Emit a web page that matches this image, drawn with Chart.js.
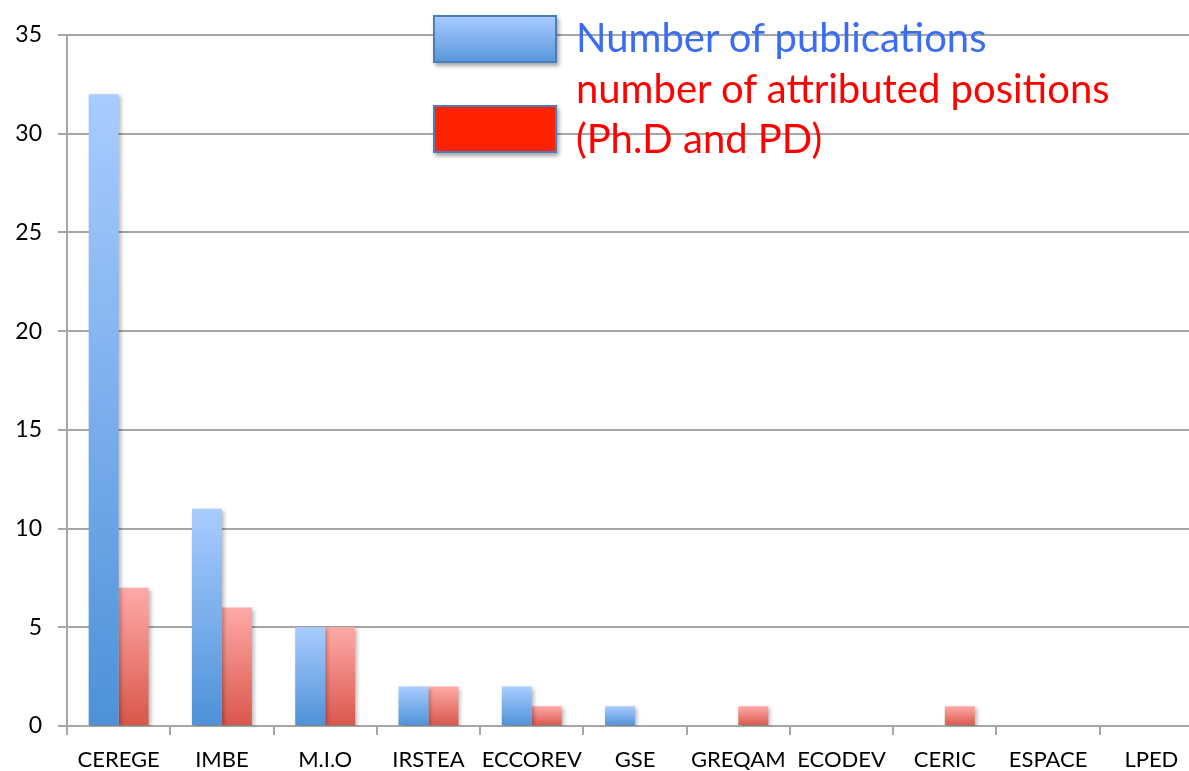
<!DOCTYPE html>
<html>
<head>
<meta charset="utf-8">
<script src="https://cdn.jsdelivr.net/npm/chart.js@4.4.1/dist/chart.umd.min.js"></script>
<style>
  html, body { margin: 0; padding: 0; background: #fff; overflow: hidden; width: 1189px; height: 771px; }
  #wrap { position: absolute; left: 0; top: 0; width: 1210px; height: 771px; }
  .lbox { position: absolute; left: 433px; width: 120px; height: 44px; border: 2px solid #4a7ebb; box-shadow: 2px 3px 4px rgba(0,0,0,0.35); }
  #box1 { top: 15px; background: linear-gradient(#a8cbff, #5a97dc); }
  #box2 { top: 105px; background: #ff2200; }
  .ltxt { position: absolute; left: 576px; font-family: Lato, "Open Sans", sans-serif; font-size: 40px; line-height: 50px; white-space: nowrap; }
  #t1 { top: 12px; color: #3a6cf4; }
  #t2 { top: 63px; color: #ff0000; }
</style>
</head>
<body>
<div id="wrap"><canvas id="c"></canvas></div>
<div class="lbox" id="box1"></div>
<div class="lbox" id="box2"></div>
<div class="ltxt" id="t1">Number of publications</div>
<div class="ltxt" id="t2">number of attributed positions<br>(Ph.D and PD)</div>
<script>
const categories = ["CEREGE", "IMBE", "M.I.O", "IRSTEA", "ECCOREV", "GSE", "GREQAM", "ECODEV", "CERIC", "ESPACE", "LPED"];
const publications = [32, 11, 5, 2, 2, 1, 0, 0, 0, 0, 0];
const positions = [7, 6, 5, 2, 1, 0, 1, 0, 1, 0, 0];
const seriesNames = ["Number of publications", "number of attributed positions (Ph.D and PD)"];

function grad(top, bottom, fallback) {
  return function (ctx) {
    if (ctx.type !== 'data') return fallback;
    const ch = ctx.chart, ys = ch.scales.y;
    if (!ys) return fallback;
    const t = ys.getPixelForValue(ctx.raw), b = ys.getPixelForValue(0);
    if (!isFinite(t) || !isFinite(b) || b - t < 1) return fallback;
    const g = ch.ctx.createLinearGradient(0, t, 0, b);
    g.addColorStop(0, top);
    g.addColorStop(1, bottom);
    return g;
  };
}

const shadowPlugin = {
  id: 'barShadow',
  beforeDatasetsDraw(chart) {
    const c = chart.ctx;
    c.save();
    c.shadowColor = 'rgba(0,0,0,0.28)';
    c.shadowBlur = 4;
    c.shadowOffsetX = 2;
    c.shadowOffsetY = 2;
  },
  afterDatasetsDraw(chart) { chart.ctx.restore(); }
};

const gridColor = '#a6a6a6';
new Chart(document.getElementById('c'), {
  type: 'bar',
  data: {
    labels: categories,
    datasets: [
      { label: seriesNames[0], data: publications, backgroundColor: grad('#a9ccff', '#4d91d8', '#7aaef0'), borderWidth: 0 },
      { label: seriesNames[1], data: positions, backgroundColor: grad('#ffaaa8', '#d9564a', '#ee8078'), borderWidth: 0 }
    ]
  },
  options: {
    responsive: true,
    maintainAspectRatio: false,
    animation: false,
    layout: { padding: { top: 35, right: 7, left: 0, bottom: 0 } },
    datasets: { bar: { categoryPercentage: 0.58, barPercentage: 1.0 } },
    plugins: { legend: { display: false }, tooltip: { enabled: false } },
    scales: {
      x: {
        grid: { drawOnChartArea: false, drawTicks: true, tickLength: 9, color: gridColor, lineWidth: 2, offset: true },
        border: { display: true, color: gridColor, width: 2 },
        ticks: { color: '#000', font: { family: 'Lato', size: 22 }, padding: 12, maxRotation: 0, autoSkip: false },
        afterFit(s) { s.height = 45; }
      },
      y: {
        min: 0, max: 35,
        grid: { color: gridColor, lineWidth: 2, tickLength: 9, drawTicks: true },
        border: { display: true, color: gridColor, width: 2 },
        ticks: { stepSize: 5, color: '#000', font: { family: 'Lato', size: 23 }, padding: 16 },
        afterFit(s) { s.width = 67; }
      }
    }
  },
  plugins: [shadowPlugin]
});
</script>
</body>
</html>
